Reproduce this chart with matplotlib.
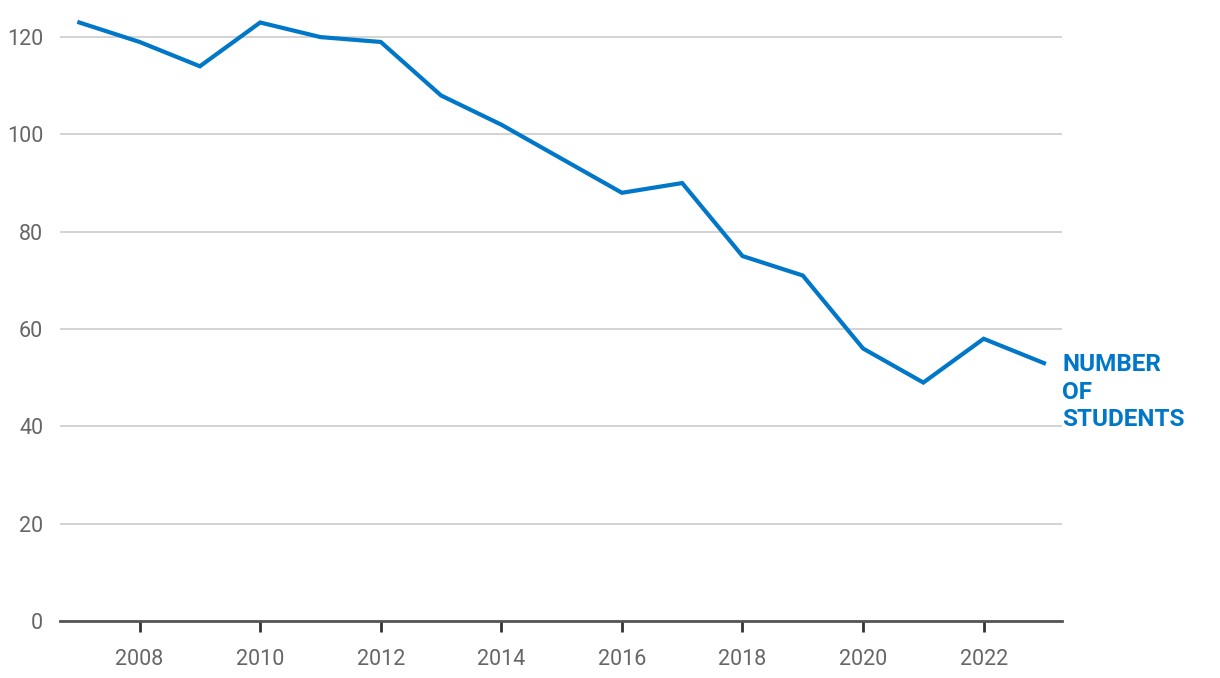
import matplotlib
matplotlib.use("Agg")
import matplotlib.pyplot as plt
import matplotlib.transforms as mtransforms

years = [2007, 2008, 2009, 2010, 2011, 2012, 2013, 2014, 2015, 2016, 2017, 2018, 2019, 2020, 2021, 2022, 2023]
students = [123, 119, 114, 123, 120, 119, 108, 102, 95, 88, 90, 75, 71, 56, 49, 58, 53]
yticks = [0, 20, 40, 60, 80, 100, 120]
xticks = [2008, 2010, 2012, 2014, 2016, 2018, 2020, 2022]
series_label = "NUMBER\nOF\nSTUDENTS"

blue = "#0077c8"
plt.rcParams['font.family'] = ['Roboto', 'DejaVu Sans']

fig = plt.figure(figsize=(12.2, 6.78), dpi=100)
ax = fig.add_axes([0.0492, 0.0841, 0.8213, 0.8899])
ax.plot(years, students, color=blue, lw=3, solid_joinstyle='miter', zorder=3)
ax.set_xlim(2006.68, 2023.3)
ax.set_ylim(0, 124)
ax.set_yticks(yticks)
ax.set_xticks(xticks)
ax.grid(axis='y', color='#d3d3d3', lw=1.4)
ax.set_axisbelow(True)
for s in ['top', 'right', 'left']:
    ax.spines[s].set_visible(False)
ax.spines['bottom'].set_color('#555555')
ax.spines['bottom'].set_linewidth(2)
ax.tick_params(axis='y', length=0, pad=12, labelsize=15.5, labelcolor='#666666')
ax.tick_params(axis='x', length=8, width=2, color='#333333', pad=12, labelsize=15.5, labelcolor='#666666')
trans = mtransforms.blended_transform_factory(ax.transAxes, ax.transData)
ax.text(1.0, 47.0, series_label, transform=trans, color=blue, fontsize=17.5,
        fontweight='bold', ha='left', va='center', linespacing=1.24)
fig.savefig("out.png", dpi=100)
